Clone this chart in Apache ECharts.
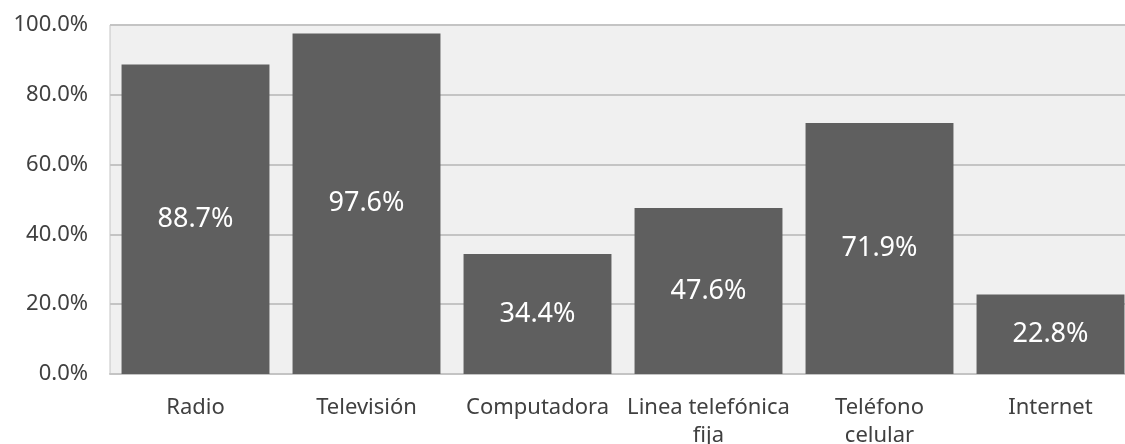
<!DOCTYPE html>
<html>
<head>
<meta charset="utf-8">
<script src="https://cdn.jsdelivr.net/npm/echarts@6/dist/echarts.min.js"></script>
<style>
  html, body { margin: 0; padding: 0; background: #fff; }
  #chart { width: 1125px; height: 444px; }
</style>
</head>
<body>
<div id="chart"></div>
<script>
var categories = ["Radio", "Televisión", "Computadora", "Linea telefónica\nfija", "Teléfono\ncelular", "Internet"];
var values = [88.7, 97.6, 34.4, 47.6, 71.9, 22.8];

var font = '"Noto Sans", "Open Sans", sans-serif';
var chart = echarts.init(document.getElementById("chart"));
chart.setOption({
  animation: false,
  grid: {
    left: 110,
    top: 25,
    width: 1026,
    height: 349,
    containLabel: false,
    outerBoundsMode: "none",
    show: true,
    backgroundColor: "#f0f0f0",
    borderColor: "#c4c4c4",
    borderWidth: 1
  },
  xAxis: {
    type: "category",
    data: categories,
    axisTick: { show: false },
    axisLine: { lineStyle: { color: "#c4c4c4", width: 2 } },
    axisLabel: {
      color: "#404040",
      fontSize: 22,
      fontFamily: font,
      margin: 20,
      lineHeight: 28,
      interval: 0
    }
  },
  yAxis: {
    type: "value",
    min: 0,
    max: 100,
    interval: 20,
    axisLine: { show: false },
    axisTick: { show: false },
    splitLine: { lineStyle: { color: "#c4c4c4", width: 2 } },
    axisLabel: {
      color: "#404040",
      fontSize: 22,
      fontFamily: font,
      margin: 22,
      formatter: function (v) { return v.toFixed(1) + "%"; }
    }
  },
  series: [{
    type: "bar",
    data: values,
    barCategoryGap: "13.5%",
    itemStyle: { color: "#5f5f5f" },
    label: {
      show: true,
      position: "inside",
      color: "#ffffff",
      fontSize: 27,
      fontFamily: font,
      formatter: function (p) { return p.value.toFixed(1) + "%"; }
    }
  }]
});
</script>
</body>
</html>
